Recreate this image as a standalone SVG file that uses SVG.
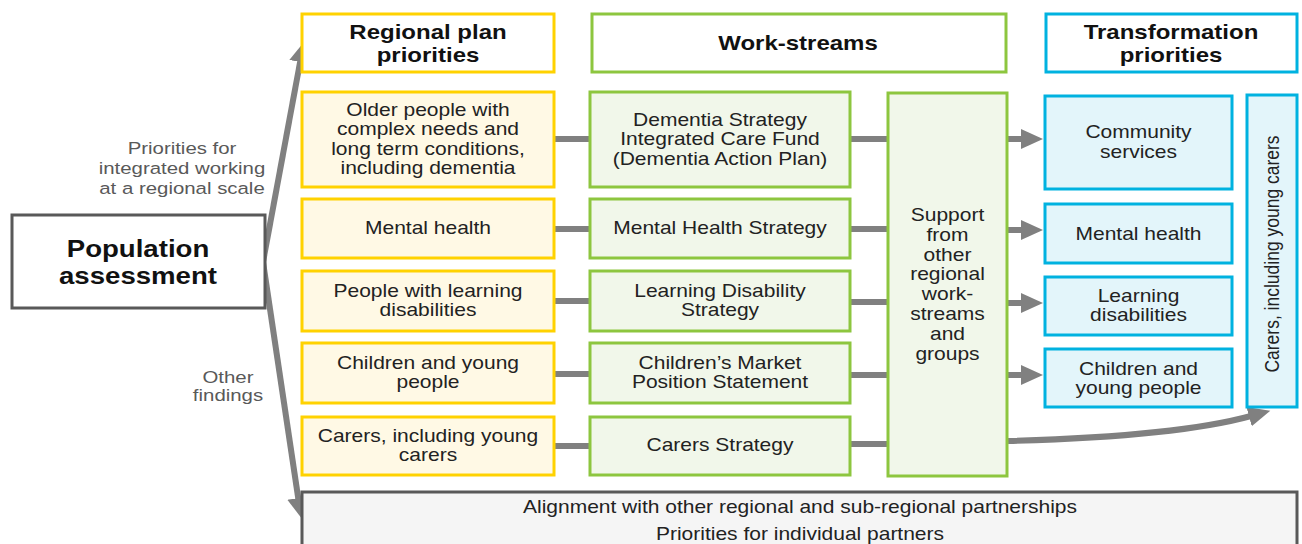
<svg xmlns="http://www.w3.org/2000/svg" width="1302" height="544" viewBox="0 0 1302 544">
<style>
.t{font-family:"Liberation Sans",Arial,sans-serif;font-size:17.5px;fill:#222;text-anchor:middle}
.b{font-weight:bold;font-size:20px;fill:#111}
.pa{font-weight:bold;font-size:23px;fill:#111}
.g{font-size:17px;fill:#595959}
.yh{fill:#fff;stroke:#FFD200;stroke-width:3}
.y{fill:#FFF9E5;stroke:#FFD200;stroke-width:3}
.gh{fill:#fff;stroke:#8DC63F;stroke-width:3}
.gr{fill:#F1F7EA;stroke:#8DC63F;stroke-width:3}
.bh{fill:#fff;stroke:#00B2E0;stroke-width:3}
.bl{fill:#E3F5FA;stroke:#00B2E0;stroke-width:3}
.dk{stroke:#595959;stroke-width:3}
.c{stroke:#808080;stroke-width:6;fill:none}
</style>
<defs>
<marker id="ah" markerUnits="userSpaceOnUse" markerWidth="22" markerHeight="24" viewBox="0 0 22 24" refX="2" refY="12" orient="auto">
<path d="M0,1 L20,12 L0,23 z" fill="#808080"/>
</marker>
<marker id="ah2" markerUnits="userSpaceOnUse" markerWidth="24" markerHeight="22" viewBox="0 0 24 22" refX="2" refY="11" orient="auto">
<path d="M0,1 L22,11 L0,21 z" fill="#808080"/>
</marker>
</defs>

<g id="connectors">
<path class="c" marker-end="url(#ah)" d="M263,262 L300.5,60"/>
<path class="c" marker-end="url(#ah)" d="M263,262 L298.5,500"/>
<line class="c" x1="554" y1="139" x2="590" y2="139"/>
<line class="c" x1="554" y1="229" x2="590" y2="229"/>
<line class="c" x1="554" y1="301" x2="590" y2="301"/>
<line class="c" x1="554" y1="374" x2="590" y2="374"/>
<line class="c" x1="554" y1="446" x2="590" y2="446"/>
<line class="c" x1="850" y1="139" x2="888" y2="139"/>
<line class="c" x1="850" y1="229" x2="888" y2="229"/>
<line class="c" x1="850" y1="302" x2="888" y2="302"/>
<line class="c" x1="850" y1="375" x2="888" y2="375"/>
<line class="c" x1="850" y1="444" x2="888" y2="444"/>
<line class="c" marker-end="url(#ah2)" x1="1008" y1="139" x2="1023" y2="139"/>
<line class="c" marker-end="url(#ah2)" x1="1008" y1="230" x2="1023" y2="230"/>
<line class="c" marker-end="url(#ah2)" x1="1008" y1="303" x2="1023" y2="303"/>
<line class="c" marker-end="url(#ah2)" x1="1008" y1="375" x2="1023" y2="375"/>
<path class="c" marker-end="url(#ah2)" d="M1008,441 C1120,438 1200,430 1251,416"/>
</g>

<g id="pop">
<rect x="12" y="215" width="253" height="93" fill="#fff" class="dk"/>
<text class="t pa" transform="matrix(1.2 0 0 1 138 0)"><tspan x="0" y="257">Population</tspan><tspan x="0" y="284">assessment</tspan></text>
</g>
<g id="lbl-top">
<text class="t g" transform="matrix(1.2 0 0 1 182 0)"><tspan x="0" y="154">Priorities for</tspan><tspan x="0" y="174">integrated working</tspan><tspan x="0" y="194">at a regional scale</tspan></text>
</g>
<g id="lbl-bottom">
<text class="t g" transform="matrix(1.2 0 0 1 228 0)"><tspan x="0" y="383">Other</tspan><tspan x="0" y="401">findings</tspan></text>
</g>

<g id="h-regional">
<rect class="yh" x="302" y="14" width="252" height="58"/>
<text class="t b" transform="matrix(1.2 0 0 1 428 0)"><tspan x="0" y="39">Regional plan</tspan><tspan x="0" y="62">priorities</tspan></text>
</g>
<g id="h-work">
<rect class="gh" x="592" y="14" width="414" height="58"/>
<text class="t b" transform="matrix(1.2 0 0 1 798 0)"><tspan x="0" y="50">Work-streams</tspan></text>
</g>
<g id="h-trans">
<rect class="bh" x="1046" y="14" width="251" height="58"/>
<text class="t b" transform="matrix(1.2 0 0 1 1171 0)"><tspan x="0" y="39">Transformation</tspan><tspan x="0" y="62">priorities</tspan></text>
</g>

<g id="r1">
<rect class="y" x="302" y="92" width="252" height="95"/>
<text class="t" transform="matrix(1.2 0 0 1 428 0)"><tspan x="0" y="116">Older people with</tspan><tspan x="0" y="135.5">complex needs and</tspan><tspan x="0" y="155">long term conditions,</tspan><tspan x="0" y="174.5">including dementia</tspan></text>
</g>
<g id="r2">
<rect class="y" x="302" y="199" width="252" height="59"/>
<text class="t" transform="matrix(1.2 0 0 1 428 0)"><tspan x="0" y="234">Mental health</tspan></text>
</g>
<g id="r3">
<rect class="y" x="302" y="271" width="252" height="60"/>
<text class="t" transform="matrix(1.2 0 0 1 428 0)"><tspan x="0" y="297">People with learning</tspan><tspan x="0" y="316">disabilities</tspan></text>
</g>
<g id="r4">
<rect class="y" x="302" y="343" width="252" height="60"/>
<text class="t" transform="matrix(1.2 0 0 1 428 0)"><tspan x="0" y="369">Children and young</tspan><tspan x="0" y="388">people</tspan></text>
</g>
<g id="r5">
<rect class="y" x="302" y="417" width="252" height="58"/>
<text class="t" transform="matrix(1.2 0 0 1 428 0)"><tspan x="0" y="442">Carers, including young</tspan><tspan x="0" y="461">carers</tspan></text>
</g>

<g id="w1">
<rect class="gr" x="590" y="92" width="260" height="95"/>
<text class="t" transform="matrix(1.2 0 0 1 720 0)"><tspan x="0" y="126">Dementia Strategy</tspan><tspan x="0" y="145.5">Integrated Care Fund</tspan><tspan x="0" y="165">(Dementia Action Plan)</tspan></text>
</g>
<g id="w2">
<rect class="gr" x="590" y="199" width="260" height="59"/>
<text class="t" transform="matrix(1.2 0 0 1 720 0)"><tspan x="0" y="234">Mental Health Strategy</tspan></text>
</g>
<g id="w3">
<rect class="gr" x="590" y="271" width="260" height="60"/>
<text class="t" transform="matrix(1.2 0 0 1 720 0)"><tspan x="0" y="297">Learning Disability</tspan><tspan x="0" y="316">Strategy</tspan></text>
</g>
<g id="w4">
<rect class="gr" x="590" y="343" width="260" height="60"/>
<text class="t" transform="matrix(1.2 0 0 1 720 0)"><tspan x="0" y="369">Children’s Market</tspan><tspan x="0" y="388">Position Statement</tspan></text>
</g>
<g id="w5">
<rect class="gr" x="590" y="417" width="260" height="58"/>
<text class="t" transform="matrix(1.2 0 0 1 720 0)"><tspan x="0" y="451">Carers Strategy</tspan></text>
</g>

<g id="support">
<rect class="gr" x="888" y="93" width="119" height="383"/>
<text class="t" transform="matrix(1.2 0 0 1 947.5 0)"><tspan x="0" y="221">Support</tspan><tspan x="0" y="241">from</tspan><tspan x="0" y="261">other</tspan><tspan x="0" y="280">regional</tspan><tspan x="0" y="300">work-</tspan><tspan x="0" y="320">streams</tspan><tspan x="0" y="340">and</tspan><tspan x="0" y="360">groups</tspan></text>
</g>

<g id="t1">
<rect class="bl" x="1045" y="96" width="187" height="93"/>
<text class="t" transform="matrix(1.2 0 0 1 1138.5 0)"><tspan x="0" y="138">Community</tspan><tspan x="0" y="158">services</tspan></text>
</g>
<g id="t2">
<rect class="bl" x="1045" y="204" width="187" height="59"/>
<text class="t" transform="matrix(1.2 0 0 1 1138.5 0)"><tspan x="0" y="240">Mental health</tspan></text>
</g>
<g id="t3">
<rect class="bl" x="1045" y="277" width="187" height="58"/>
<text class="t" transform="matrix(1.2 0 0 1 1138.5 0)"><tspan x="0" y="302">Learning</tspan><tspan x="0" y="321">disabilities</tspan></text>
</g>
<g id="t4">
<rect class="bl" x="1045" y="349" width="187" height="58"/>
<text class="t" transform="matrix(1.2 0 0 1 1138.5 0)"><tspan x="0" y="375">Children and</tspan><tspan x="0" y="394">young people</tspan></text>
</g>
<g id="t5">
<rect class="bl" x="1247" y="95" width="50" height="312"/>
<text class="t" transform="translate(1279 254) scale(1.2 1) rotate(-90)" x="0" y="0">Carers, including young carers</text>
</g>

<g id="bottom">
<rect x="302" y="492" width="995" height="60" fill="#F5F5F5" class="dk"/>
<text class="t" transform="matrix(1.2 0 0 1 800 0)"><tspan x="0" y="513">Alignment with other regional and sub-regional partnerships</tspan><tspan x="0" y="540">Priorities for individual partners</tspan></text>
</g>
</svg>
